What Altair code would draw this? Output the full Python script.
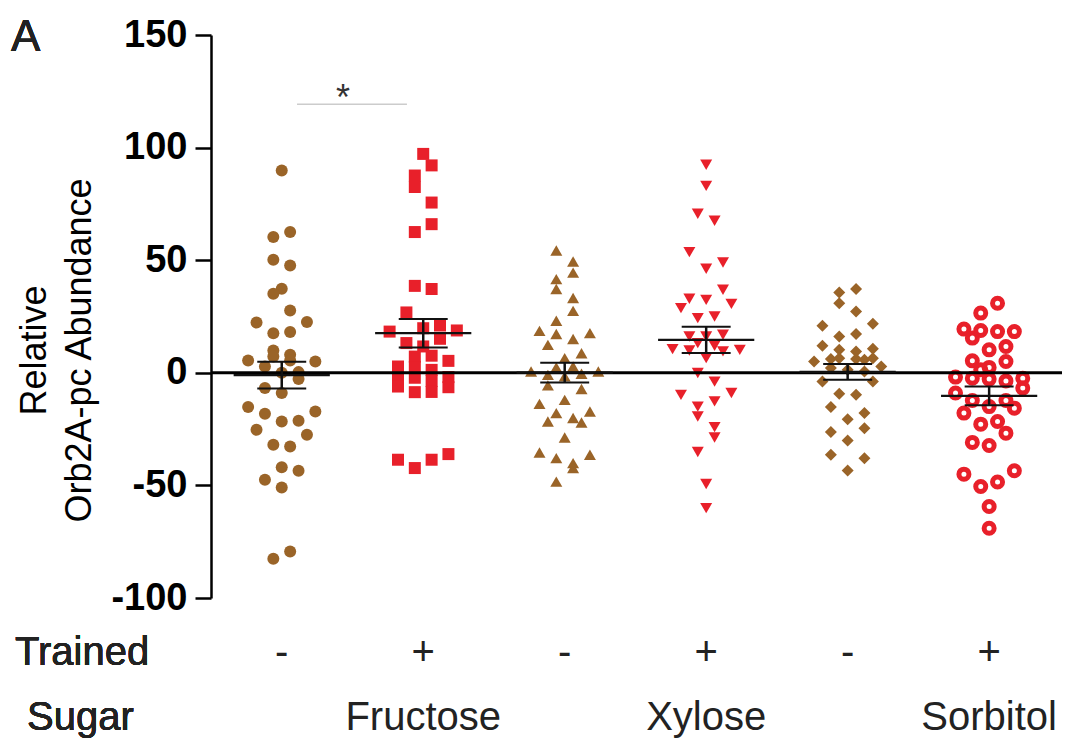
import altair as alt
import pandas as pd

# ---------------- data ----------------
groups = [1, 2, 3, 4, 5, 6]
trained = ["-", "+", "-", "+", "-", "+"]
sugars = ["", "Fructose", "", "Xylose", "", "Sorbitol"]
shapes = ["circle", "square", "triangle-up", "triangle-down", "diamond", "circle"]
colors = ["#9A6428", "#E8202A", "#9A6428", "#E8202A", "#9A6428", "#E8202A"]
sizes = [144, 144, 170, 170, 175, 100]

g1_vals = [89.8, 62.5, 60.3, 50.2, 47.6, 37.3, 35.1, 27.7, 22.3, 22.6, 17.6, 18.1, 9.9, 7.2,
           8.0, 5.5, 5.5, 5.0, 2.8, 0.0, 0.3, -2.8, -6.8, -9.0, -15.2, -17.2, -18.2, -21.6,
           -21.3, -25.3, -27.5, -32.0, -32.7, -41.9, -43.5, -47.5, -50.9, -79.3, -82.6]
g1_lanes = [0, 1, -1, -1, 1, 0, -1, 1, -3, 3, -1, 1, -1, -1,
            1, 1, -4, 4, -2, 0, 2, 2, -2, 0, -4, 4, -2, 0,
            2, -3, 3, -1, 1, 0, 2, -2, 0, 1, -1]

g2_vals = [97.2, 92.1, 87.6, 82.5, 75.6, 66.0, 62.5, 38.6, 37.2, 26.8, 18.3, 19.8, 21.0, 18.8,
           15.1, 13.2, 11.7, 7.2, 7.6, 5.3, 2.8, -1.6, -6.1, 2.5, -2.2, -8.6, 1.3, -3.6, -8.5,
           -1.9, -6.4, -38.6, -42.3, -38.6, -36.1]
g2_lanes = [0, 1, -1, -1, 1, 1, -1, -1, 1, -2, -4, 0, 2, 4,
            2, -2, 0, -1, 1, 3, -3, -3, -3, -1, -1, -1, 1, 1, 1,
            3, 3, -3, -1, 1, 3]

g3_vals = [54.3, 49.4, 44.5, 41.6, 37.2, 33.2, 27.5, 23.1, 18.6, 17.2, 17.6, 15.0, 12.4, 8.7,
           6.5, 2.8, 2.4, 0.6, -0.9, -0.4, 0.6, -1.6, -5.6, -7.2, -12.0, -13.8, -17.2, -17.9,
           -21.6, -20.1, -22.1, -28.7, -35.4, -36.4, -37.9, -40.1, -42.3, -48.3]
g3_lanes = [-1, 1, 1, -1, -1, 1, 1, -1, -3, -1, 3, 1, -2, 2,
            0, 1, -1, -4, -2, 2, 4, 0, -2, 2, 0, -3, 3, -1,
            -2, 1, 2, 0, -3, 3, -1, 1, 1, -1]

g4_vals = [92.4, 83.0, 70.6, 67.5, 53.6, 49.0, 46.2, 36.9, 32.9, 32.4, 28.7, 30.6, 24.3, 25.0,
           16.1, 16.1, 16.9, 13.2, 12.0, 10.5, 9.9, 10.2, 9.5, 6.5, -0.1, -3.9, -9.8, -9.0,
           -12.7, -15.0, -19.4, -24.1, -28.7, -35.2, -49.4, -60.1]
g4_lanes = [0, 0, -1, 1, -2, 2, 0, 2, -2, 0, -3, 3, -1, 1,
            -2, 0, 2, -1, 1, -4, -2, 4, 2, 0, -1, 1, -3, 3,
            1, -1, -1, 1, 1, -1, 0, 0]

g5_vals = [35.7, 37.2, 30.9, 27.2, 20.9, 21.8, 16.1, 17.2, 12.0, 10.2, 9.5, 10.7, 5.0, 6.1,
           6.5, 6.1, 5.8, 6.5, 2.8, 2.1, 1.3, 0.6, -3.9, -3.9, -9.3, -9.8, -15.2, -17.9,
           -20.6, -24.6, -26.3, -30.1, -36.4, -37.9, -43.4]
g5_lanes = [-1, 1, -1, 1, -3, 3, -1, 1, -3, -1, 1, 3, -4, -2,
            -1, 1, 2, 3, 4, -2, 0, 2, -3, 3, -1, 1, -2, 2,
            0, 2, -2, 0, -2, 2, 0]

g6_vals = [30.9, 26.5, 19.4, 15.4, 18.8, 18.3, 18.3, 10.2, 11.7, 5.3, 5.0, 2.4, 1.3, -1.9,
           -2.4, -2.8, -3.6, -2.4, -9.0, -6.8, -12.3, -15.0, -12.3, -15.7, -17.9, -22.8, -21.6,
           -26.8, -30.9, -32.3, -45.0, -50.5, -48.5, -43.5, -59.4, -69.0]
g6_lanes = [1, -1, -3, -2, -1, 1, 3, 0, 2, -2, 2, 0, -1, -4,
            -2, 0, 2, 4, -4, 4, -2, 0, 2, 3, -3, -1, 1,
            2, -2, 0, -3, -1, 1, 3, 0, 0]

y_ticks = [-100, -50, 0, 50, 100, 150]
sig_x = [1.108, 1.885]
sig_y = 119.3
star_x = 1.433
star_y = 116.5

LANE = 0.0594
FONT = "Liberation Sans"

rows = []
for g, vals, lanes in zip(groups,
                          [g1_vals, g2_vals, g3_vals, g4_vals, g5_vals, g6_vals],
                          [g1_lanes, g2_lanes, g3_lanes, g4_lanes, g5_lanes, g6_lanes]):
    for v, l in zip(vals, lanes):
        rows.append({"g": g, "val": v, "xpos": g + l * LANE})
df = pd.DataFrame(rows)

xscale = alt.Scale(domain=[0.5, 6.515], nice=False, zero=False)
yscale = alt.Scale(domain=[-100, 150], nice=False, zero=False)
yaxis = alt.Axis(
    values=y_ticks, title=["Relative", "Orb2A-pc Abundance"], grid=False,
    labelExpr="datum.value < 0 ? '-' + abs(datum.value) : '' + datum.value",
    domainColor="black", domainWidth=2.5, tickColor="black", tickWidth=2.5, tickSize=16,
    labelFont=FONT, labelFontSize=38, labelFontWeight="bold", labelColor="black",
    labelPadding=8, titleFont=FONT, titleFontSize=36, titleFontWeight="normal",
    titleColor="black", titleAngle=270, titleX=-177, titleY=315, titleAlign="center",
    titleBaseline="middle", titleLineHeight=45,
)


def X(f):
    return alt.X(f, type="quantitative", scale=xscale, axis=None)


def Y(f):
    return alt.Y(f, type="quantitative", scale=yscale, axis=yaxis)


filled = alt.Chart(df[df.g < 6]).mark_point(filled=True, opacity=1).encode(
    x=X("xpos"), y=Y("val"),
    shape=alt.Shape("g:N", scale=alt.Scale(domain=groups, range=shapes), legend=None),
    color=alt.Color("g:N", scale=alt.Scale(domain=groups, range=colors), legend=None),
    size=alt.Size("g:N", scale=alt.Scale(domain=groups, range=sizes), legend=None),
)
openc = alt.Chart(df[df.g == 6]).mark_point(
    filled=False, shape="circle", size=sizes[5], strokeWidth=5, color="#E8202A", opacity=1
).encode(x=X("xpos"), y=Y("val"))

zero = alt.Chart(pd.DataFrame({"z": [0]})).mark_rule(color="black", strokeWidth=3).encode(y=Y("z"))

stats = alt.Chart(df).transform_aggregate(
    m="mean(val)", se="stderr(val)", groupby=["g"]
).transform_calculate(
    lo="datum.m - datum.se", hi="datum.m + datum.se",
    xl="datum.g - 0.34", xr="datum.g + 0.34",
    cl="datum.g - 0.173", cr="datum.g + 0.173",
)
mean_rule = stats.mark_rule(color="#111", strokeWidth=2.2).encode(x=X("xl"), x2="xr:Q", y=Y("m"))
cap_hi = stats.mark_rule(color="#111", strokeWidth=2).encode(x=X("cl"), x2="cr:Q", y=Y("hi"))
cap_lo = stats.mark_rule(color="#111", strokeWidth=2).encode(x=X("cl"), x2="cr:Q", y=Y("lo"))
stem = stats.mark_rule(color="#111", strokeWidth=2.5).encode(x=X("g"), y=Y("lo"), y2="hi:Q")

sig_df = pd.DataFrame({"x1": [sig_x[0]], "x2": [sig_x[1]], "y": [sig_y]})
sig = alt.Chart(sig_df).mark_rule(color="#cccccc", strokeWidth=1.5).encode(x=X("x1"), x2="x2:Q", y=Y("y"))
star = alt.Chart(pd.DataFrame({"x": [star_x], "y": [star_y]})).mark_text(
    text="*", font=FONT, fontSize=36, color="#333", align="center", baseline="alphabetic"
).encode(x=X("x"), y=Y("y"))

lab_df = pd.DataFrame({"g": groups, "t": trained, "s": sugars})
trained_txt = alt.Chart(lab_df).mark_text(
    font=FONT, fontSize=40, color="#222", align="center", baseline="middle"
).encode(x=X("g"), y=alt.value(618), text="t:N")
sugar_txt = alt.Chart(lab_df).mark_text(
    font=FONT, fontSize=40, color="#222", align="center", baseline="middle"
).encode(x=X("g"), y=alt.value(683), text="s:N")
row1 = alt.Chart(lab_df).mark_text(
    text="Trained", font=FONT, fontSize=40, color="#222", align="left", baseline="middle"
).encode(x=alt.value(-196), y=alt.value(618))
row2 = alt.Chart(lab_df).mark_text(
    text="Sugar", font=FONT, fontSize=40, color="#222", align="left", baseline="middle"
).encode(x=alt.value(-184), y=alt.value(683))
panel = alt.Chart(lab_df).mark_text(
    text="A", font=FONT, fontSize=44, color="#222", align="left", baseline="alphabetic"
).encode(x=alt.value(-200), y=alt.value(16))

chart = alt.layer(
    filled, openc, zero, mean_rule, cap_hi, cap_lo, stem, sig, star,
    trained_txt, sugar_txt, row1, row2, panel
).properties(
    width=851, height=563,
    padding={"left": 203, "top": 27, "right": 1, "bottom": 144},
    autosize=alt.AutoSizeParams(type="none"),
).configure_view(stroke=None)

chart.save("out.html", embed_options={"renderer": "svg", "actions": False})
